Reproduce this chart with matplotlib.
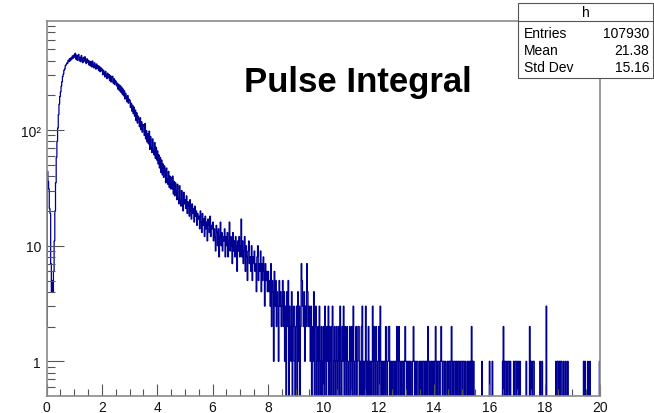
import numpy as np
from matplotlib import pyplot as plt
from matplotlib.patches import Rectangle
from matplotlib.lines import Line2D
from matplotlib.ticker import FixedLocator, FixedFormatter, MultipleLocator, NullFormatter

# histogram range and per-bin counts, 800 bins of 0.025 (one row = 0.5 in x)
x_min, x_max = 0.0, 20.0
counts = [
    2, 44, 36, 31, 21, 19, 7, 4, 5, 4, 6, 11, 20, 35, 58, 80, 104, 136, 168, 195,
    214, 240, 262, 290, 305, 330, 338, 362, 368, 381, 378, 402, 392, 415, 398, 422, 410, 438, 419, 446,
    428, 462, 411, 445, 402, 436, 452, 398, 426, 391, 442, 408, 383, 425, 397, 431, 388, 376, 414, 387,
    402, 366, 394, 360, 389, 352, 396, 364, 345, 382, 355, 337, 373, 342, 361, 328, 356, 320, 347, 326,
    338, 301, 329, 312, 288, 322, 297, 279, 311, 284, 302, 268, 295, 261, 287, 292, 255, 279, 248, 270,
    262, 241, 255, 226, 248, 219, 243, 213, 236, 205, 227, 198, 219, 186, 208, 195, 176, 199, 171, 185,
    181, 157, 171, 146, 164, 139, 158, 132, 149, 121, 141, 115, 132, 124, 107, 128, 101, 118, 96, 112,
    109, 90, 114, 84, 99, 79, 93, 76, 98, 68, 88, 71, 64, 84, 67, 61, 78, 57, 71, 55,
    66, 51, 61, 47, 58, 43, 55, 41, 51, 39, 49, 44, 35, 47, 38, 34, 44, 32, 40, 31,
    39, 31, 40, 28, 36, 27, 35, 30, 25, 34, 26, 23, 33, 25, 22, 30, 24, 20, 29, 23,
    25, 21, 27, 19, 24, 22, 18, 25, 20, 17, 23, 19, 21, 16, 22, 18, 20, 15, 19, 17,
    18, 14, 20, 16, 13, 19, 15, 17, 12, 18, 14, 16, 11, 17, 15, 13, 18, 12, 15, 14,
    16, 11, 14, 12, 9, 15, 13, 10, 14, 8, 12, 16, 10, 13, 9, 12, 11, 14, 8, 12,
    10, 13, 8, 11, 16, 9, 12, 10, 7, 13, 9, 11, 8, 12, 10, 6, 11, 9, 12, 8,
    10, 17, 8, 11, 7, 9, 12, 6, 10, 8, 5, 9, 11, 7, 8, 6, 10, 5, 8, 7,
    9, 6, 7, 4, 8, 10, 5, 7, 6, 9, 4, 7, 5, 8, 6, 3, 7, 5, 6, 4,
    6, 4, 5, 3, 7, 2, 5, 4, 1, 6, 3, 5, 2, 4, 3, 1, 5, 3, 4, 2,
    3, 5, 2, 4, 1, 3, 0, 4, 2, 5, 0, 3, 2, 1, 4, 0, 2, 3, 1, 0,
    2, 3, 0, 4, 1, 3, 0, 2, 7, 5, 3, 2, 4, 1, 3, 2, 7, 4, 2, 3,
    2, 1, 3, 0, 2, 1, 4, 0, 2, 3, 0, 1, 2, 0, 3, 1, 0, 2, 1, 0,
    2, 0, 3, 1, 0, 2, 1, 3, 0, 2, 1, 0, 2, 3, 0, 1, 2, 0, 1, 2,
    0, 1, 2, 0, 3, 1, 0, 2, 1, 3, 0, 2, 1, 0, 2, 1, 0, 1, 2, 0,
    1, 2, 0, 3, 1, 0, 1, 2, 0, 1, 2, 2, 0, 1, 0, 2, 3, 0, 1, 0,
    1, 3, 0, 1, 0, 2, 1, 0, 1, 0, 1, 3, 0, 2, 1, 0, 2, 1, 0, 1,
    2, 0, 3, 1, 0, 1, 0, 1, 1, 0, 2, 1, 0, 1, 2, 2, 0, 1, 0, 1,
    0, 1, 1, 0, 1, 0, 2, 1, 0, 2, 1, 0, 1, 0, 1, 1, 0, 1, 2, 1,
    0, 1, 0, 1, 1, 0, 1, 0, 0, 1, 2, 1, 0, 1, 0, 1, 1, 0, 0, 1,
    1, 0, 1, 0, 1, 1, 0, 1, 0, 1, 0, 2, 1, 0, 1, 0, 1, 1, 0, 1,
    0, 1, 2, 0, 1, 0, 1, 1, 0, 1, 2, 1, 0, 1, 1, 0, 1, 0, 0, 1,
    0, 1, 1, 0, 1, 2, 0, 1, 0, 1, 1, 0, 1, 0, 1, 1, 0, 1, 0, 1,
    1, 0, 1, 1, 0, 1, 0, 0, 1, 0, 1, 0, 1, 0, 2, 1, 0, 1, 0, 0,
    0, 0, 0, 0, 0, 0, 0, 0, 0, 1, 0, 0, 0, 0, 0, 0, 0, 0, 0, 0,
    1, 0, 0, 0, 1, 0, 0, 0, 0, 0, 0, 0, 0, 0, 0, 0, 0, 0, 0, 1,
    2, 0, 1, 1, 0, 1, 0, 1, 1, 0, 1, 0, 0, 0, 0, 1, 0, 1, 1, 0,
    1, 0, 1, 0, 1, 0, 0, 0, 0, 0, 0, 0, 0, 1, 0, 0, 0, 0, 2, 1,
    0, 1, 0, 1, 1, 0, 0, 0, 0, 0, 0, 0, 0, 1, 0, 0, 1, 0, 0, 0,
    0, 0, 3, 0, 0, 0, 0, 0, 0, 0, 0, 0, 0, 0, 0, 0, 1, 0, 1, 1,
    0, 1, 0, 1, 1, 0, 0, 1, 0, 0, 1, 0, 0, 1, 0, 0, 0, 0, 0, 0,
    0, 0, 0, 0, 0, 0, 0, 0, 0, 0, 0, 0, 0, 0, 0, 0, 1, 0, 1, 0,
    0, 0, 1, 0, 0, 1, 0, 0, 0, 0, 0, 0, 0, 0, 0, 0, 0, 0, 0, 1,
]

title = "Pulse Integral"
hist_name = "h"
stat_names = ["Entries", "Mean", "Std Dev"]
stat_values = ["107930", "21.38", "15.16"]

y_major = [1, 10, 100]
y_major_labels = ["1", "10", "10²"]
y_minor = [0.6, 0.7, 0.8, 0.9] + [k * d for d in (1, 10, 100) for k in range(2, 10)]

plt.rcParams['font.family'] = ['Liberation Sans', 'DejaVu Sans']

counts = np.array(counts, dtype=float)
edges = np.linspace(x_min, x_max, len(counts) + 1)

W, H = 654, 414
fig = plt.figure(figsize=(W / 100, H / 100), dpi=100)
ax = fig.add_axes([46.5 / W, 17.3 / H, 553.5 / W, 375 / H])
ax.set_yscale('log')

# empty bins are pushed below the frame so the outline drops to the axis
ax.stairs(np.where(counts > 0, counts, 1e-3), edges, baseline=None,
          color='#000094', lw=0.9)

ax.set_xlim(x_min, x_max)
ax.set_ylim(0.504, 884)

ax.xaxis.set_major_locator(MultipleLocator(2))
ax.xaxis.set_minor_locator(MultipleLocator(0.5))
ax.yaxis.set_major_locator(FixedLocator(y_major))
ax.yaxis.set_major_formatter(FixedFormatter(y_major_labels))
ax.yaxis.set_minor_locator(FixedLocator(y_minor))
ax.yaxis.set_minor_formatter(NullFormatter())

tick_col = '#555555'
ax.tick_params(axis='x', which='major', direction='in', length=8.4, width=0.8,
               color=tick_col, labelsize=10, pad=3, top=False, labelcolor='#111111')
ax.tick_params(axis='x', which='minor', direction='in', length=4.7, width=0.8,
               color=tick_col, top=False)
ax.tick_params(axis='y', which='major', direction='in', length=12, width=0.8,
               color=tick_col, labelsize=10, pad=4, right=False, labelcolor='#111111')
ax.tick_params(axis='y', which='minor', direction='in', length=6, width=0.8,
               color=tick_col, right=False)
for s in ax.spines.values():
    s.set_color('#8a8a8a')
    s.set_linewidth(1.2)

fig.text(357.5 / W, 1 - 92 / H, title, fontsize=25, fontweight='bold',
         ha='center', va='baseline')

# stats box in the top right corner
bx0, bx1, by0, by1 = 518, 653, 4, 79
fig.add_artist(Rectangle((bx0 / W, 1 - by1 / H), (bx1 - bx0) / W, (by1 - by0) / H,
                         transform=fig.transFigure, fc='white', ec='#555555', lw=0.8))
fig.add_artist(Line2D([bx0 / W, bx1 / W], [1 - 22 / H, 1 - 22 / H],
                      transform=fig.transFigure, color='#555555', lw=0.8))
fig.text((bx0 + bx1) / 2 / W, 1 - 13 / H, hist_name, fontsize=10, ha='center', va='center')
for i, (name, val) in enumerate(zip(stat_names, stat_values)):
    yy = 1 - (34 + 17 * i) / H
    fig.text((bx0 + 6) / W, yy, name, fontsize=10, ha='left', va='center')
    fig.text((bx1 - 4) / W, yy, val, fontsize=10, ha='right', va='center')

fig.savefig("out.png", dpi=100)
